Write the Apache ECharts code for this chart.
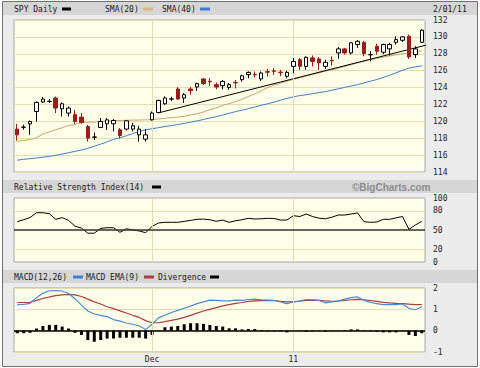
<!DOCTYPE html>
<html>
<head>
<meta charset="utf-8">
<script src="https://cdn.jsdelivr.net/npm/echarts@6/dist/echarts.min.js"></script>
<style>
    html, body { margin: 0; padding: 0; background: #ffffff; }
    #spyCharts { width: 480px; height: 368px; }
</style>
</head>
<body>
<div id="spyCharts"></div>
<script>
// trading days, Nov 2010 - Feb 1 2011
let dates = ['11/01', '11/02', '11/03', '11/04', '11/05', '11/08', '11/09', '11/10', '11/11', '11/12',
    '11/15', '11/16', '11/17', '11/18', '11/19', '11/22', '11/23', '11/24', '11/26', '11/29', '11/30',
    '12/01', '12/02', '12/03', '12/06', '12/07', '12/08', '12/09', '12/10', '12/13', '12/14', '12/15',
    '12/16', '12/17', '12/20', '12/21', '12/22', '12/23', '12/27', '12/28', '12/29', '12/30', '12/31',
    '01/03', '01/04', '01/05', '01/06', '01/07', '01/10', '01/11', '01/12', '01/13', '01/14', '01/18',
    '01/19', '01/20', '01/21', '01/24', '01/25', '01/26', '01/27', '01/28', '01/31', '02/01'];

let opens = [119.08, 119.30, 119.70, 121.17, 122.29, 122.35, 122.76, 121.49, 120.98, 120.78,
    120.50, 119.39, 118.12, 119.27, 119.71, 119.71, 119.00, 119.08, 119.08, 118.40,
    117.89, 120.18, 121.05, 122.08, 122.63, 123.83, 122.76, 123.83, 124.07, 125.02,
    124.75, 124.34, 124.22, 124.02, 124.62, 124.93, 125.53, 125.56, 125.02, 125.88,
    125.98, 125.83, 125.33, 126.51, 127.30, 126.51, 127.51, 127.39, 126.51, 127.23,
    128.10, 128.58, 128.10, 129.09, 129.36, 127.88, 128.89, 128.18, 128.58, 129.36,
    129.60, 130.08, 127.90, 129.36];
let closes = [118.40, 119.32, 119.98, 122.24, 122.64, 122.37, 121.57, 122.08, 121.57, 119.98,
    119.86, 118.01, 118.14, 119.98, 120.18, 120.10, 118.32, 120.06, 119.47, 119.08,
    118.40, 120.98, 122.48, 122.76, 122.65, 122.64, 123.15, 123.63, 124.46, 124.46,
    124.68, 124.07, 124.73, 124.34, 124.56, 125.40, 125.80, 125.50, 125.73, 125.82,
    125.92, 125.77, 125.80, 127.10, 126.51, 127.58, 127.10, 126.92, 126.99, 127.17,
    128.58, 128.10, 129.30, 129.48, 128.02, 127.90, 128.30, 129.10, 129.10, 129.68,
    130.00, 127.63, 128.58, 130.79];
let lows = [117.70, 119.00, 118.40, 119.98, 122.17, 122.17, 120.98, 120.57, 120.57, 119.71,
    119.71, 117.61, 117.80, 119.20, 118.97, 118.80, 118.00, 118.90, 118.80, 117.60,
    117.60, 120.10, 120.98, 121.96, 122.40, 122.56, 122.17, 123.15, 123.60, 124.30,
    124.20, 123.80, 123.80, 123.75, 123.90, 124.70, 125.10, 125.20, 124.80, 125.30,
    125.50, 125.35, 125.10, 125.70, 126.10, 126.10, 126.50, 126.10, 126.20, 126.60,
    127.40, 127.90, 127.90, 128.70, 127.70, 127.10, 127.90, 127.96, 127.80, 129.10,
    129.40, 127.39, 127.50, 129.30];
let highs = [119.70, 119.60, 120.10, 122.36, 122.88, 122.64, 122.95, 122.24, 121.76, 121.37,
    120.98, 119.59, 118.67, 120.38, 120.38, 120.26, 119.20, 120.10, 119.80, 119.47,
    119.08, 121.17, 122.56, 122.95, 122.90, 124.05, 123.35, 124.07, 124.60, 125.10,
    125.10, 124.60, 124.90, 124.54, 124.90, 125.50, 125.90, 125.90, 125.90, 126.20,
    126.30, 126.10, 126.00, 127.50, 127.50, 127.70, 127.80, 127.60, 127.30, 127.70,
    128.80, 128.70, 129.40, 129.60, 129.50, 128.30, 129.20, 129.20, 129.30, 130.08,
    130.10, 130.28, 128.90, 130.90];

let sma20 = [117.65, 117.72, 117.85, 118.05, 118.50, 118.75, 119.00, 119.25, 119.50, 119.65,
    119.85, 119.90, 119.90, 120.00, 120.05, 120.05, 120.10, 120.12, 120.15, 120.15,
    120.18, 120.20, 120.28, 120.36, 120.44, 120.50, 120.60, 120.75, 120.90, 121.10,
    121.38, 121.60, 121.90, 122.10, 122.35, 122.60, 122.95, 123.25, 123.60, 124.00,
    124.30, 124.50, 124.75, 124.95, 125.15, 125.35, 125.55, 125.73, 125.95, 126.10,
    126.28, 126.50, 126.70, 126.92, 127.10, 127.30, 127.45, 127.60, 127.75, 127.88,
    128.00, 128.12, 128.25, 128.35];
let sma40 = [115.40, 115.50, 115.58, 115.66, 115.75, 115.85, 115.98, 116.12, 116.28, 116.45,
    116.60, 116.80, 117.05, 117.30, 117.58, 117.85, 118.05, 118.30, 118.55, 118.80,
    119.00, 119.12, 119.25, 119.38, 119.50, 119.62, 119.75, 119.90, 120.05, 120.22,
    120.40, 120.55, 120.75, 120.95, 121.15, 121.32, 121.50, 121.70, 121.90, 122.08,
    122.28, 122.50, 122.72, 122.90, 123.05, 123.15, 123.28, 123.40, 123.52, 123.68,
    123.85, 124.02, 124.18, 124.35, 124.55, 124.75, 124.95, 125.20, 125.45, 125.75,
    126.05, 126.30, 126.45, 126.58];

// trend line end points (category index, price)
let trendIdx = [21.9, 65.1];
let trendVal = [120.98, 129.30];

let rsi = [63, 66, 69.5, 77, 77, 75.5, 66.7, 69.3, 65, 56,
    53, 45, 45, 52.5, 53.6, 53.6, 46.4, 52, 50, 48.5,
    45.8, 55.5, 61, 62, 62, 62, 63.5, 65, 66.7, 67,
    66, 63.6, 65.5, 62, 64.5, 66, 68.2, 67.2, 67.5, 68.2,
    68, 65.6, 65.6, 72.4, 71, 75, 71, 68.5, 67.5, 70,
    73.4, 73.4, 75, 76.6, 63, 62, 62.5, 66.7, 66.7, 69,
    71, 51, 57.8, 63.5];

let macd = [1.22, 1.23, 1.28, 1.55, 1.75, 1.87, 1.88, 1.86, 1.74, 1.50,
    1.20, 0.92, 0.78, 0.72, 0.66, 0.52, 0.45, 0.36, 0.30, 0.22,
    0.05, 0.30, 0.60, 0.72, 0.85, 0.95, 1.05, 1.15, 1.27, 1.35,
    1.43, 1.42, 1.40, 1.40, 1.43, 1.42, 1.46, 1.48, 1.45, 1.43,
    1.42, 1.35, 1.27, 1.35, 1.40, 1.46, 1.45, 1.42, 1.30, 1.35,
    1.40, 1.48, 1.55, 1.58, 1.42, 1.32, 1.27, 1.22, 1.22, 1.22,
    1.25, 1.05, 0.98, 1.12];
let macdEma = [1.32, 1.32, 1.33, 1.42, 1.51, 1.58, 1.64, 1.68, 1.70, 1.68,
    1.60, 1.48, 1.35, 1.25, 1.12, 1.03, 0.93, 0.83, 0.72, 0.62,
    0.47, 0.37, 0.37, 0.42, 0.48, 0.54, 0.62, 0.72, 0.82, 0.92,
    1.00, 1.08, 1.16, 1.22, 1.28, 1.32, 1.37, 1.40, 1.41, 1.42,
    1.41, 1.38, 1.35, 1.35, 1.38, 1.42, 1.43, 1.42, 1.40, 1.38,
    1.39, 1.42, 1.45, 1.47, 1.45, 1.41, 1.37, 1.33, 1.30, 1.28,
    1.27, 1.24, 1.22, 1.22];
let divergence = [-0.12, -0.12, -0.10, 0.10, 0.22, 0.27, 0.27, 0.19, 0.10, -0.10,
    -0.20, -0.44, -0.52, -0.44, -0.37, -0.37, -0.33, -0.33, -0.33, -0.33,
    -0.37, -0.20, 0.02, 0.16, 0.19, 0.22, 0.30, 0.35, 0.35, 0.32,
    0.27, 0.22, 0.19, 0.11, 0.11, 0.06, 0.08, 0.08, 0.03, -0.03,
    -0.03, -0.03, -0.08, 0.01, 0.01, -0.05, -0.03, 0.01, -0.05, 0.01,
    0.01, 0.03, 0.06, 0.06, 0.02, -0.03, -0.05, -0.08, -0.08, -0.08,
    -0.02, -0.20, -0.25, -0.12];

// tick labels
let monthTickIdx = [21, 43];
let monthTickText = ['Dec', '11'];
let rsiTicks = [0, 20, 50, 80, 100];

(function () {
    let dom = document.getElementById('spyCharts');
    let myChart = echarts.init(dom, null, { renderer: 'svg' });

    let mono = 'DejaVu Sans Mono';
    let gridColor = '#e2deb4';
    let red = '#9b1c1c';

    let kData = [];
    for (let i = 0; i < dates.length; i++) {
        kData.push([opens[i], closes[i], lows[i], highs[i]]);
    }
    let trendData = [];
    for (let i = 0; i < trendIdx.length; i++) {
        trendData.push([trendIdx[i], trendVal[i]]);
    }
    let monthLines = monthTickIdx.map(function (idx) {
        return { xAxis: dates[idx] };
    });

    let labelStyle = { fontFamily: mono, fontSize: 8, color: '#222' };
    let gridBase = {
        left: 14, width: 411, height: 64, show: true,
        backgroundColor: '#fffee8', borderColor: '#a8a8a8', borderWidth: 1
    };

    function catAxis(gridIndex, showLabel) {
        return {
            type: 'category', gridIndex: gridIndex, data: dates, boundaryGap: true,
            axisLine: { show: false }, axisTick: { show: false }, splitLine: { show: false },
            axisLabel: {
                show: showLabel, margin: 3, fontFamily: mono, fontSize: 8, color: '#222',
                interval: function (index) { return monthTickIdx.indexOf(index) >= 0; },
                formatter: function (value, index) {
                    let k = monthTickIdx.indexOf(index);
                    return k >= 0 ? monthTickText[k] : '';
                }
            }
        };
    }

    function guideSeries(xi, yi, hLines) {
        let data = monthLines.slice();
        hLines.forEach(function (h) {
            data.push({ yAxis: h.v, lineStyle: { color: h.c, width: h.w } });
        });
        return {
            type: 'line', xAxisIndex: xi, yAxisIndex: yi, data: [], z: 1, silent: true,
            markLine: {
                silent: true, symbol: 'none', animation: false,
                label: { show: false },
                lineStyle: { color: gridColor, width: 1, type: 'solid' },
                data: data
            }
        };
    }

    let band = function (y) {
        return { type: 'rect', z: -5, shape: { x: 3, y: y, width: 474, height: 13 }, style: { fill: '#d6d6d6' } };
    };
    let txt = function (x, y, s) {
        return { type: 'text', x: x, y: y, style: { text: s, fill: '#1a1a1a', font: '8px "DejaVu Sans Mono"', verticalAlign: 'middle' } };
    };
    let swatch = function (x, y, w, c) {
        return { type: 'rect', shape: { x: x, y: y - 1.5, width: w, height: 3 }, style: { fill: c } };
    };

    let option = {
        animation: false,
        backgroundColor: '#ffffff',
        graphic: [
            { type: 'rect', z: -10, shape: { x: 2.5, y: 1.5, width: 475, height: 365 }, style: { fill: '#ececec', stroke: '#707070', lineWidth: 1 } },
            band(2), band(180), band(270),
            txt(14, 9, 'SPY Daily'), swatch(62, 9, 9, '#000000'),
            txt(105, 9, 'SMA(20)'), swatch(143, 9, 10, '#e2b478'),
            txt(162, 9, 'SMA(40)'), swatch(200, 9, 10, '#3f7fd0'),
            txt(433, 9, '2/01/11'),
            txt(14, 187, 'Relative Strength Index(14)'), swatch(152, 187, 9, '#000000'),
            { type: 'text', x: 352, y: 187, style: { text: '©BigCharts.com', fill: '#8c8c8c', font: 'bold 10px "Liberation Sans"', verticalAlign: 'middle' } },
            txt(14, 277, 'MACD(12,26)'), swatch(73, 277, 10, '#3f7fd0'),
            txt(86, 277, 'MACD EMA(9)'), swatch(144, 277, 10, '#a84040'),
            txt(158, 277, 'Divergence'), swatch(210, 277, 9, '#000000')
        ],
        grid: [
            Object.assign({}, gridBase, { top: 20, height: 152 }),
            Object.assign({}, gridBase, { top: 198 }),
            Object.assign({}, gridBase, { top: 288 })
        ],
        xAxis: [
            catAxis(0, false),
            catAxis(1, false),
            catAxis(2, true),
            { type: 'value', gridIndex: 0, min: -0.5, max: dates.length - 0.5, show: false }
        ],
        yAxis: [
            {
                type: 'value', gridIndex: 0, position: 'right', min: 114, max: 132, interval: 2,
                axisLine: { show: false }, axisTick: { show: false },
                axisLabel: Object.assign({ margin: 8 }, labelStyle),
                splitLine: { lineStyle: { color: gridColor, width: 1 } }
            },
            {
                type: 'value', gridIndex: 1, position: 'right', min: 0, max: 100, interval: 10,
                axisLine: { show: false }, axisTick: { show: false },
                axisLabel: Object.assign({
                    margin: 8, showMinLabel: true, showMaxLabel: true,
                    formatter: function (v) { return rsiTicks.indexOf(v) >= 0 ? String(v) : ''; }
                }, labelStyle),
                splitLine: { show: false }
            },
            {
                type: 'value', gridIndex: 2, position: 'right', min: -1, max: 2, interval: 1,
                axisLine: { show: false }, axisTick: { show: false },
                axisLabel: Object.assign({ margin: 8 }, labelStyle),
                splitLine: { lineStyle: { color: gridColor, width: 1 } }
            }
        ],
        series: [
            guideSeries(0, 0, []),
            guideSeries(1, 1, [
                { v: 20, c: gridColor, w: 1 },
                { v: 80, c: gridColor, w: 1 },
                { v: 50, c: '#333333', w: 1.5 }
            ]),
            guideSeries(2, 2, [{ v: 0, c: '#000000', w: 1.5 }]),
            {
                name: 'SMA(40)', type: 'line', xAxisIndex: 0, yAxisIndex: 0, data: sma40,
                symbol: 'none', z: 3, lineStyle: { color: '#3f7fc8', width: 1 }
            },
            {
                name: 'SMA(20)', type: 'line', xAxisIndex: 0, yAxisIndex: 0, data: sma20,
                symbol: 'none', z: 3, lineStyle: { color: '#c9a56b', width: 1 }
            },
            {
                name: 'trend', type: 'line', xAxisIndex: 3, yAxisIndex: 0, data: trendData,
                symbol: 'none', clip: false, z: 4, lineStyle: { color: '#000000', width: 1 }
            },
            {
                name: 'SPY Daily', type: 'candlestick', xAxisIndex: 0, yAxisIndex: 0, data: kData,
                barWidth: 4, z: 5,
                itemStyle: {
                    color: '#ffffff', color0: red,
                    borderColor: '#000000', borderColor0: red, borderWidth: 1
                }
            },
            {
                name: 'RSI', type: 'line', xAxisIndex: 1, yAxisIndex: 1, data: rsi,
                symbol: 'none', z: 3, lineStyle: { color: '#000000', width: 1 }
            },
            {
                name: 'Divergence', type: 'bar', xAxisIndex: 2, yAxisIndex: 2, data: divergence,
                barWidth: 3, z: 3, itemStyle: { color: '#000000' }
            },
            {
                name: 'MACD EMA(9)', type: 'line', xAxisIndex: 2, yAxisIndex: 2, data: macdEma,
                symbol: 'none', z: 4, lineStyle: { color: '#a84040', width: 1.2 }
            },
            {
                name: 'MACD(12,26)', type: 'line', xAxisIndex: 2, yAxisIndex: 2, data: macd,
                symbol: 'none', z: 4, lineStyle: { color: '#4a8ad8', width: 1.2 }
            }
        ]
    };

    if (option && typeof option === "object") {
        myChart.setOption(option, true);
    }
})();
</script>
</body>
</html>
